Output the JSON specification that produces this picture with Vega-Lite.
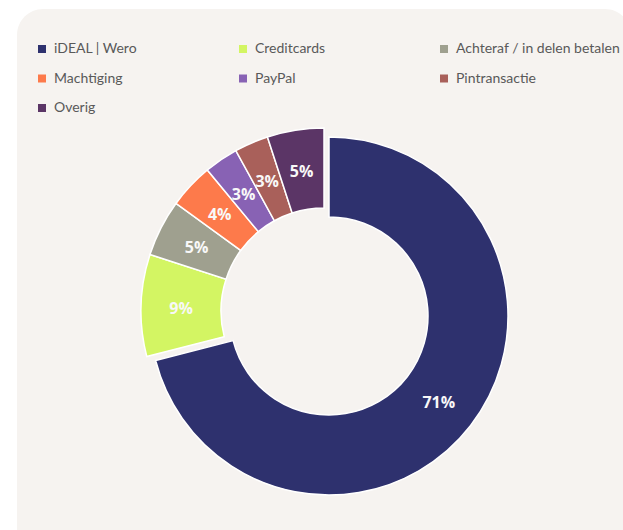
{
  "$schema": "https://vega.github.io/schema/vega-lite/v6.json",
  "width": 614,
  "height": 604,
  "autosize": {"type": "none"},
  "padding": {"left": 17, "top": 9, "right": -8, "bottom": -83},
  "background": "white",
  "view": {"fill": "#f6f3f0", "stroke": null, "cornerRadius": 26},
  "config": {
    "view": {"fill": "#f6f3f0", "stroke": null, "cornerRadius": 26},
    "legend": {
      "orient": "none",
      "legendX": 18,
      "legendY": 33,
      "direction": "horizontal",
      "columns": 3,
      "symbolType": "square",
      "symbolSize": 64,
      "symbolStrokeWidth": 0,
      "labelFont": "Lato",
      "labelFontSize": 14,
      "labelColor": "#595959",
      "labelLimit": 300,
      "labelOffset": 5,
      "columnPadding": 17,
      "rowPadding": 15.5,
      "gridAlign": "all"
    }
  },
  "data": {
    "values": [
      {"name": "iDEAL | Wero", "share": 0.71, "order": 1},
      {"name": "Creditcards", "share": 0.09, "order": 2},
      {"name": "Achteraf / in delen betalen", "share": 0.05, "order": 3},
      {"name": "Machtiging", "share": 0.04, "order": 4},
      {"name": "PayPal", "share": 0.03, "order": 5},
      {"name": "Pintransactie", "share": 0.03, "order": 6},
      {"name": "Overig", "share": 0.05, "order": 7}
    ]
  },
  "encoding": {
    "theta": {"field": "share", "type": "quantitative", "stack": true},
    "order": {"field": "order", "type": "quantitative"}
  },
  "layer": [
    {
      "mark": {"type": "arc", "radius": 183, "radius2": 103, "stroke": "#ffffff", "strokeWidth": 1.5},
      "encoding": {
        "color": {
          "field": "name",
          "type": "nominal",
          "title": null,
          "scale": {
            "domain": ["iDEAL | Wero", "Creditcards", "Achteraf / in delen betalen", "Machtiging", "PayPal", "Pintransactie", "Overig"],
            "range": ["#2e316e", "#d3f563", "#9fa08f", "#fd7a4b", "#8862b4", "#a9605a", "#5b3566"]
          }
        },
        "opacity": {"condition": {"test": "datum.name === 'iDEAL | Wero'", "value": 0}, "value": 1}
      }
    },
    {
      "mark": {"type": "arc", "radius": 179, "radius2": 99, "xOffset": 5, "yOffset": 5, "stroke": "#ffffff", "strokeWidth": 1.5},
      "encoding": {
        "color": {"field": "name", "type": "nominal", "title": null},
        "opacity": {"condition": {"test": "datum.name === 'iDEAL | Wero'", "value": 1}, "value": 0}
      }
    },
    {
      "mark": {"type": "text", "radius": 143, "dy": 2, "font": "Open Sans", "fontWeight": "bold", "fontSize": 16, "fill": "#f8f8f8"},
      "encoding": {
        "text": {"field": "share", "type": "quantitative", "format": ".0%"},
        "opacity": {"condition": {"test": "datum.name === 'iDEAL | Wero'", "value": 0}, "value": 1}
      }
    },
    {
      "mark": {"type": "text", "radius": 139, "xOffset": 5, "yOffset": 5, "dy": 2, "font": "Open Sans", "fontWeight": "bold", "fontSize": 16, "fill": "#f8f8f8"},
      "encoding": {
        "text": {"field": "share", "type": "quantitative", "format": ".0%"},
        "opacity": {"condition": {"test": "datum.name === 'iDEAL | Wero'", "value": 1}, "value": 0}
      }
    }
  ]
}
